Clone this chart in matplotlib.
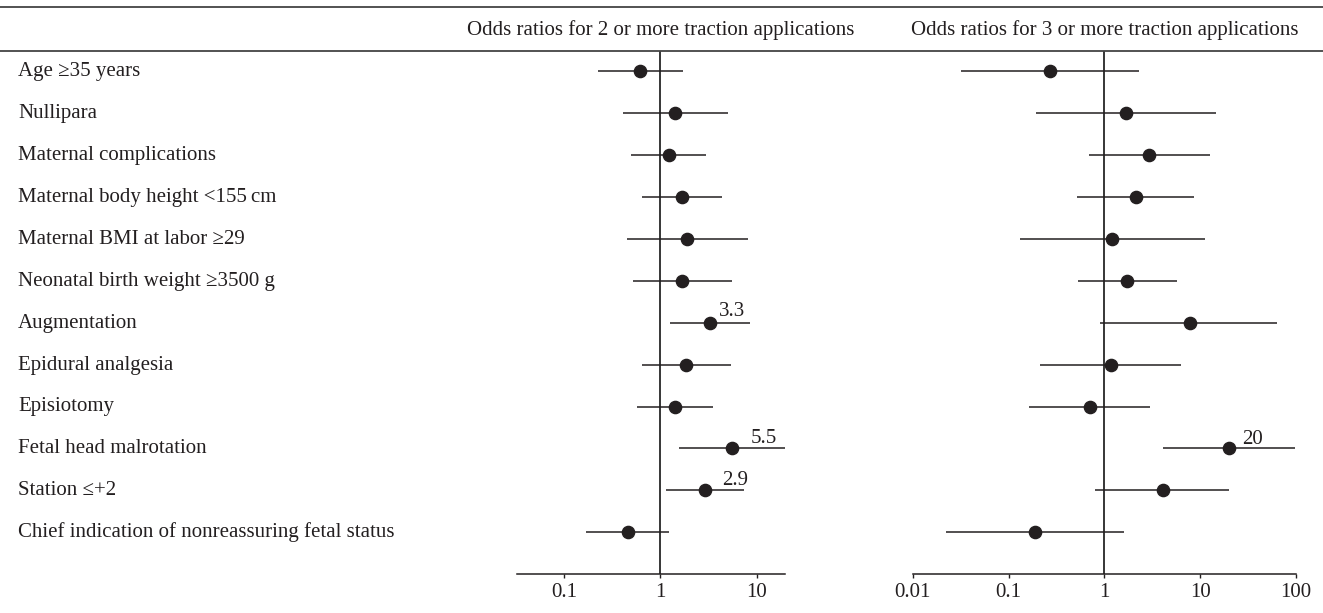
import matplotlib
matplotlib.use("Agg")
import matplotlib.pyplot as plt
from matplotlib.lines import Line2D

plt.rcParams['font.family'] = ['Liberation Serif', 'DejaVu Serif']

labels = [
    "Age \u226535 years",
    "Nullipara",
    "Maternal complications",
    "Maternal body height <155\u2009cm",
    "Maternal BMI at labor \u226529",
    "Neonatal birth weight \u22653500 g",
    "Augmentation",
    "Epidural analgesia",
    "Episiotomy",
    "Fetal head malrotation",
    "Station \u2264+2",
    "Chief indication of nonreassuring fetal status",
]

or2 = [0.62, 1.43, 1.22, 1.68, 1.91, 1.68, 3.3, 1.86, 1.43, 5.5, 2.9, 0.46]
lo2 = [0.227, 0.41, 0.50, 0.65, 0.45, 0.52, 1.27, 0.64, 0.58, 1.55, 1.15, 0.17]
hi2 = [1.71, 5.0, 2.98, 4.4, 8.2, 5.6, 8.6, 5.4, 3.5, 19.6, 7.4, 1.24]

or3 = [0.27, 1.67, 2.95, 2.13, 1.21, 1.73, 7.8, 1.16, 0.70, 20, 4.1, 0.19]
lo3 = [0.032, 0.195, 0.69, 0.52, 0.133, 0.535, 0.91, 0.213, 0.163, 4.1, 0.79, 0.022]
hi3 = [2.3, 14.5, 12.6, 8.7, 11.3, 5.7, 63.5, 6.3, 2.98, 98.6, 20.2, 1.62]

annot2 = {6: "3.3", 9: "5.5", 10: "2.9"}
annot3 = {9: "20"}

ticks2 = [0.1, 1, 10]
ticklabels2 = ["0.1", "1", "10"]
ticks3 = [0.01, 0.1, 1, 10, 100]
ticklabels3 = ["0.01", "0.1", "1", "10", "100"]

header2 = "Odds ratios for 2 or more traction applications"
header3 = "Odds ratios for 3 or more traction applications"

# label offsets (pixels right of / above the point)
annot_off2 = {6: (22, 11), 9: (32, 10), 10: (30, 10)}
annot_off3 = {9: (23, 9)}

W, H = 1323, 613
fig = plt.figure(figsize=(W / 100, H / 100), dpi=100)

def px2fx(x):
    return x / W

def px2fy(y):
    return 1 - y / H

top_px, bot_px = 50.7, 574
dark = "#231f20"
fs = 15

def make_panel(x0, x1, xlim, ors, los, his, annots, offs, ticks, ticklabels, header):
    ax = fig.add_axes([px2fx(x0), px2fy(bot_px), px2fx(x1 - x0), (bot_px - top_px) / H])
    ax.set_xscale('log')
    ax.set_xlim(*xlim)
    n = len(ors)
    ax.set_ylim(n - 0.006, -0.484)
    ys = list(range(n))
    ax.hlines(ys, los, his, color=dark, lw=1.1, zorder=2)
    ax.plot(ors, ys, 'o', color=dark, ms=8.8, zorder=3)
    ax.axvline(1, color='black', lw=1.1, zorder=1)
    for i, txt in annots.items():
        dx, dy = offs[i]
        ax.annotate(txt, (ors[i], ys[i]), xytext=(dx * 0.72, dy * 0.72), textcoords='offset points',
                    ha='center', va='center', fontsize=fs, color=dark)
    for s in ['top', 'right', 'left']:
        ax.spines[s].set_visible(False)
    ax.spines['bottom'].set_linewidth(1.1)
    ax.spines['bottom'].set_color(dark)
    ax.set_yticks([])
    ax.set_xticks(ticks)
    ax.set_xticklabels(ticklabels)
    ax.xaxis.set_minor_locator(matplotlib.ticker.NullLocator())
    ax.tick_params(axis='x', direction='out', length=3, width=1.0, labelsize=fs,
                   pad=3.5, colors=dark)
    ax.text(1, 1 + (top_px - 35) / (bot_px - top_px), header, transform=ax.get_xaxis_transform(),
            ha='center', va='baseline', fontsize=fs, color=dark)
    return ax

ax1 = make_panel(516.7, 785, (0.0325, 19.6), or2, lo2, hi2, annot2, annot_off2, ticks2, ticklabels2, header2)
ax2 = make_panel(912.7, 1296, (0.01, 100), or3, lo3, hi3, annot3, annot_off3, ticks3, ticklabels3, header3)

# row labels
for i, lab in enumerate(labels):
    y_px = 71 + i * 41.93 + 5
    fig.text(px2fx(18), px2fy(y_px), lab, ha='left', va='baseline', fontsize=fs, color=dark)

# table rules
for y in [7, 50.7]:
    fig.add_artist(Line2D([0, 1], [px2fy(y), px2fy(y)], transform=fig.transFigure,
                          color='#444444', lw=1.3))

fig.savefig("out.png", dpi=100)
